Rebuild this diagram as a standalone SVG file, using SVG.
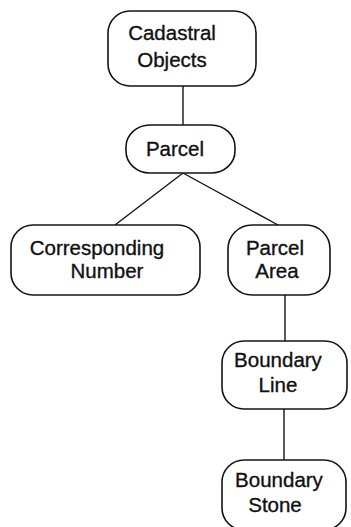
<svg xmlns="http://www.w3.org/2000/svg" width="351" height="527" viewBox="0 0 351 527">
  <style>
    .box { fill: #ffffff; stroke: #141414; stroke-width: 1.6; }
    .edge { stroke: #141414; stroke-width: 1.4; fill: none; }
    .lbl { font-family: "Liberation Sans", Arial, Helvetica, sans-serif; font-size: 20.5px; fill: #111111; stroke: #111111; stroke-width: 0.35; text-anchor: middle; }
  </style>
  <rect width="351" height="527" fill="#ffffff"/>

  <!-- connectors -->
  <g id="connectors">
    <line class="edge" x1="183" y1="86" x2="183" y2="125"/>
    <line class="edge" x1="183" y1="173" x2="115" y2="225"/>
    <line class="edge" x1="183" y1="173" x2="278" y2="225"/>
    <line class="edge" x1="285" y1="295" x2="285" y2="341"/>
    <line class="edge" x1="284" y1="409" x2="284" y2="460"/>
  </g>

  <g id="cadastral-objects">
    <rect class="box" x="108" y="11" width="148" height="75" rx="22" ry="22"/>
    <text class="lbl" x="172" y="40">Cadastral</text>
    <text class="lbl" x="172" y="67">Objects</text>
  </g>

  <g id="parcel">
    <rect class="box" x="126" y="125" width="109" height="48" rx="24" ry="22"/>
    <text class="lbl" x="175" y="156">Parcel</text>
  </g>

  <g id="corresponding-number">
    <rect class="box" x="11" y="225" width="189" height="70" rx="22" ry="22"/>
    <text class="lbl" x="97" y="255">Corresponding</text>
    <text class="lbl" x="107" y="278">Number</text>
  </g>

  <g id="parcel-area">
    <rect class="box" x="228" y="225" width="102" height="70" rx="24" ry="24"/>
    <text class="lbl" x="275" y="255">Parcel</text>
    <text class="lbl" x="277" y="278">Area</text>
  </g>

  <g id="boundary-line">
    <rect class="box" x="222" y="341" width="125" height="68" rx="22" ry="22"/>
    <text class="lbl" x="278" y="367">Boundary</text>
    <text class="lbl" x="278" y="392">Line</text>
  </g>

  <g id="boundary-stone">
    <rect class="box" x="222" y="460" width="124" height="70" rx="22" ry="22"/>
    <text class="lbl" x="279" y="487">Boundary</text>
    <text class="lbl" x="275" y="512">Stone</text>
  </g>
</svg>
